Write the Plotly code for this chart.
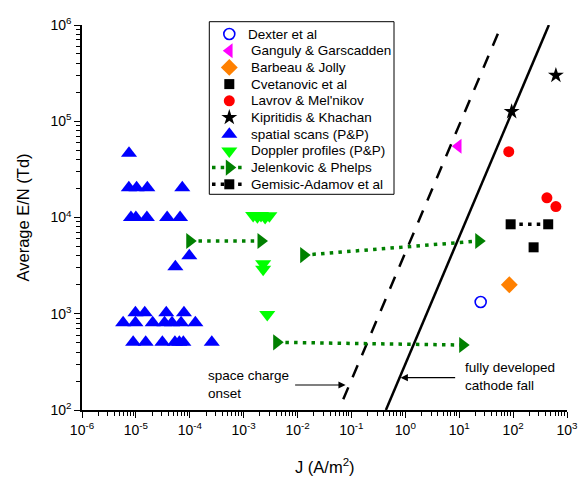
import plotly.graph_objects as go

# ---------------- data ----------------
dexter_x = [25]
dexter_y = [1325]

ganguly_x = [9.6]
ganguly_y = [5.5e4]

barbeau_x = [85]
barbeau_y = [2000]

cvetanovic_x = [240]
cvetanovic_y = [4900]

lavrov_x = [83, 424, 622]
lavrov_y = [4.83e4, 1.6e4, 1.3e4]

kipritidis_x = [94, 622]
kipritidis_y = [1.26e5, 3.0e5]

spatial_x = [7.45e-6,
             7.4e-6, 1.03e-5, 1.63e-5, 7.26e-5,
             8.1e-6, 1.0e-5, 1.6e-5, 3.8e-5, 6.6e-5,
             9.8e-5, 5.4e-5,
             9.8e-6, 1.46e-5, 3.66e-5, 7.8e-5,
             5.8e-6, 9.8e-6, 2.05e-5, 3.4e-5, 4.68e-5, 6.9e-5, 1.27e-4,
             8.9e-6, 1.52e-5, 3.1e-5, 5.3e-5, 6.4e-5, 7.6e-5, 2.56e-4]
spatial_y = [4.64e4,
             2.04e4, 2.04e4, 2.04e4, 2.04e4,
             1.0e4, 1.0e4, 1.0e4, 1.0e4, 1.0e4,
             4000, 3080,
             1025, 1025, 1025, 1025,
             807, 807, 807, 807, 807, 807, 807,
             505, 505, 505, 505, 505, 505, 505]

doppler_x = [1.5e-3, 1.8e-3, 2.1e-3, 2.5e-3, 3.0e-3, 2.3e-3, 2.3e-3, 2.74e-3]
doppler_y = [1.05e4, 1.02e4, 1.05e4, 1.0e4, 1.04e4, 3300, 2900, 980]

jelenkovic_x = [1.0e-4, 2.1e-3, None, 1.3e-2, 23, None, 4.1e-3, 11.6]
jelenkovic_y = [5700, 5700, None, 4070, 5700, None, 505, 473]

gemisic_x = [90, 448]
gemisic_y = [8500, 8500]

# reference lines
cathode_fall_x = [0.436, 461]
cathode_fall_y = [100, 1.0e6]
space_charge_x = [0.0705, 53]
space_charge_y = [129, 8.3e5]

x_tickvals = [1e-6, 1e-5, 1e-4, 1e-3, 1e-2, 1e-1, 1e0, 1e1, 1e2, 1e3]
x_ticktext = ["10<sup>-6</sup>", "10<sup>-5</sup>", "10<sup>-4</sup>", "10<sup>-3</sup>",
              "10<sup>-2</sup>", "10<sup>-1</sup>", "10<sup>0</sup>", "10<sup>1</sup>",
              "10<sup>2</sup>", "10<sup>3</sup>"]
y_tickvals = [1e2, 1e3, 1e4, 1e5, 1e6]
y_ticktext = ["10<sup>2</sup>", "10<sup>3</sup>", "10<sup>4</sup>", "10<sup>5</sup>",
              "10<sup>6</sup>"]

legend_labels = ["Dexter et al", "Ganguly & Garscadden", "Barbeau & Jolly",
                 "Cvetanovic et al", "Lavrov & Mel'nikov", "Kipritidis & Khachan",
                 "spatial scans (P&P)", "Doppler profiles (P&P)",
                 "Jelenkovic & Phelps", "Gemisic-Adamov et al"]

# ---------------- styles ----------------
DOT = "3.5px,5.2px"
styles = [
    dict(mode="markers", marker=dict(symbol="circle-open", size=11, color="#0000FF",
                                     line=dict(width=1.6, color="#0000FF"))),
    dict(mode="markers", marker=dict(symbol="triangle-left", size=13, color="#FF00FF")),
    dict(mode="markers", marker=dict(symbol="diamond", size=13, color="#FF8000")),
    dict(mode="markers", marker=dict(symbol="square", size=10, color="black")),
    dict(mode="markers", marker=dict(symbol="circle", size=11, color="#FF0000")),
    dict(mode="markers", marker=dict(symbol="star", size=12, color="black")),
    dict(mode="markers", marker=dict(symbol="triangle-up", size=14, color="#0000FF")),
    dict(mode="markers", marker=dict(symbol="triangle-down", size=14, color="#00FF00")),
    dict(mode="lines+markers", line=dict(color="#008000", width=3.5, dash=DOT),
         marker=dict(symbol="triangle-right", size=14, color="#008000")),
    dict(mode="lines+markers", line=dict(color="black", width=3.5, dash=DOT),
         marker=dict(symbol="square", size=10, color="black")),
]
series = [(dexter_x, dexter_y), (ganguly_x, ganguly_y), (barbeau_x, barbeau_y),
          (cvetanovic_x, cvetanovic_y), (lavrov_x, lavrov_y), (kipritidis_x, kipritidis_y),
          (spatial_x, spatial_y), (doppler_x, doppler_y), (jelenkovic_x, jelenkovic_y),
          (gemisic_x, gemisic_y)]

# ---------------- figure ----------------
fig = go.Figure()

fig.add_trace(go.Scatter(x=cathode_fall_x, y=cathode_fall_y, mode="lines",
                         line=dict(color="black", width=2.5), showlegend=False,
                         hoverinfo="skip"))
fig.add_trace(go.Scatter(x=space_charge_x, y=space_charge_y, mode="lines",
                         line=dict(color="black", width=2.5, dash="13px,11px"),
                         showlegend=False, hoverinfo="skip"))

for (sx, sy), name, st in zip(series, legend_labels, styles):
    fig.add_trace(go.Scatter(x=sx, y=sy, name=name, showlegend=False,
                             connectgaps=False, **st))

# ---------------- hand-built legend (plot-area fraction coordinates) ----------------
W, H, L, B = 485.0, 385.0, 82.0, 410.0   # plot area size and offsets in px
def fx(px):
    return (px - L) / W
def fy(py):
    return (B - py) / H

font_family = "Liberation Sans, Arial, sans-serif"
fig.add_shape(type="rect", xref="paper", yref="paper",
              x0=fx(209.3), x1=fx(394), y0=fy(194.3), y1=fy(21.7),
              line=dict(color="black", width=1), fillcolor="white", layer="below")

row0, step = 34.0, 16.7
for i, (name, st) in enumerate(zip(legend_labels, styles)):
    py = row0 + i * step
    tx = 245.5 if i == 0 else 249.0
    fig.add_annotation(xref="paper", yref="paper", x=fx(tx), y=fy(py), text=name,
                       showarrow=False, xanchor="left", yanchor="middle",
                       font=dict(size=13.5, family=font_family, color="black"))
    if st["mode"] == "lines+markers":
        fig.add_trace(go.Scatter(x=[fx(212), fx(246)], y=[fy(py), fy(py)], mode="lines",
                                 line=st["line"], xaxis="x2", yaxis="y2",
                                 showlegend=False, hoverinfo="skip", cliponaxis=False))
    fig.add_trace(go.Scatter(x=[fx(229.3)], y=[fy(py)], mode="markers", marker=st["marker"],
                             xaxis="x2", yaxis="y2", showlegend=False, hoverinfo="skip",
                             cliponaxis=False))

fig.update_layout(
    width=581, height=479,
    margin=dict(l=82, r=14, t=25, b=69),
    paper_bgcolor="white", plot_bgcolor="white",
    font=dict(family=font_family, size=14, color="black"),
    showlegend=False,
    xaxis=dict(type="log", range=[-6, 3], tickvals=x_tickvals, ticktext=x_ticktext,
               showgrid=False, zeroline=False, showline=True, linecolor="black", linewidth=1.5,
               ticks="outside", ticklen=6, tickwidth=1.2, tickcolor="black",
               minor=dict(ticks="outside", ticklen=4, tickwidth=1, tickcolor="black",
                          dtick="D1", showgrid=False),
               automargin=False, tickfont=dict(size=14)),
    yaxis=dict(type="log", range=[2, 6], tickvals=y_tickvals, ticktext=y_ticktext,
               showgrid=False, zeroline=False, showline=True, linecolor="black", linewidth=1.5,
               ticks="outside", ticklen=6, tickwidth=1.2, tickcolor="black",
               minor=dict(ticks="outside", ticklen=4, tickwidth=1, tickcolor="black",
                          dtick="D1", showgrid=False),
               automargin=False, tickfont=dict(size=14)),
    xaxis2=dict(overlaying="x", range=[0, 1], visible=False, anchor="y2", fixedrange=True),
    yaxis2=dict(overlaying="y", range=[0, 1], visible=False, anchor="x2", fixedrange=True),
)

# axis titles
fig.add_annotation(xref="paper", yref="paper", x=0.5, y=fy(466), text="J (A/m<sup>2</sup>)",
                   showarrow=False, xanchor="center", yanchor="middle",
                   font=dict(size=16.5, family=font_family))
fig.add_annotation(xref="paper", yref="paper", x=fx(22), y=0.5, text="Average E/N (Td)",
                   textangle=-90, showarrow=False, xanchor="center", yanchor="middle",
                   font=dict(size=16.5, family=font_family))

# annotations
fig.add_annotation(x=-1.108, y=2.26, xref="x", yref="y", ax=-52, ay=0, text="",
                   showarrow=True, arrowhead=2, arrowsize=1.2, arrowwidth=1.2, arrowcolor="black")
fig.add_annotation(x=-3.70, y=2.27, xref="x", yref="y", text="space charge<br>onset",
                   showarrow=False, xanchor="left", align="left",
                   font=dict(size=13.5, family=font_family))
fig.add_annotation(x=-0.087, y=2.336, xref="x", yref="y", ax=56, ay=0, text="",
                   showarrow=True, arrowhead=2, arrowsize=1.2, arrowwidth=1.2, arrowcolor="black")
fig.add_annotation(x=1.063, y=2.348, xref="x", yref="y", text="fully developed<br>cathode fall",
                   showarrow=False, xanchor="left", align="left",
                   font=dict(size=13.5, family=font_family))

fig.write_html("out.html")
